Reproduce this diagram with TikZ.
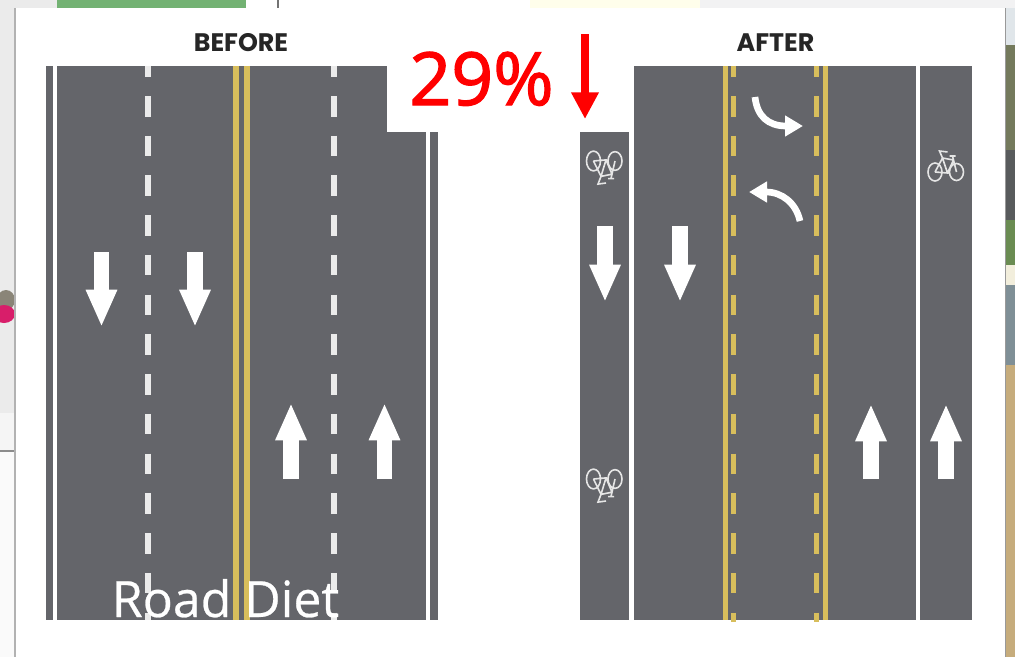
\documentclass[tikz,border=0pt]{standalone}
\usepackage{fontspec}
\setmainfont{Open Sans}
\newfontfamily\headfont{Poppins}
\newfontfamily\markfont[FakeBold=1.8]{Open Sans}
\newfontfamily\dietfont[FakeBold=0.5]{Open Sans}
\usepackage{xcolor}
\usetikzlibrary{arrows.meta}
\definecolor{asphalt}{HTML}{64656A}
\definecolor{paint}{HTML}{D8BE5C}
\definecolor{markred}{HTML}{FF0000}
\definecolor{haze}{HTML}{E0E6EA}
\definecolor{trees}{HTML}{747A5C}
\definecolor{dusk}{HTML}{585B5C}
\definecolor{grass}{HTML}{6A8C52}
\definecolor{cream}{HTML}{F2EEDC}
\definecolor{water}{HTML}{7F8F96}
\definecolor{sand}{HTML}{C6AC7C}
\definecolor{coat}{HTML}{D81E6A}
\definecolor{hair}{HTML}{8A8578}
\tikzset{
  road/.style={fill=asphalt},
  yline/.style={draw=paint, line width=4.2pt},
  ydash/.style={yline, dash pattern=on 15.4pt off 14.4pt, dash phase=7.3pt},
  wdash/.style={draw=white!92!black, line width=3.8pt, dash pattern=on 15.4pt off 14.4pt, dash phase=7.3pt},
  lanearrow/.style={draw=white, line width=11.4pt, -{Triangle[length=28pt, width=21.6pt]}},
  turnarrow/.style={draw=white, line width=5pt, -{Triangle[length=13.5pt, width=15pt]}},
  droparrow/.style={draw=markred, line width=6.6pt, -{Triangle[length=20pt, width=19.5pt]}},
  heading/.style={font=\headfont\bfseries\fontsize{19}{19}\selectfont, text=black!85, anchor=base, inner sep=0pt},
  bigmark/.style={font=\markfont\fontsize{55}{55}\selectfont, text=markred, anchor=base, inner sep=0pt},
  caption/.style={font=\dietfont\fontsize{37.5}{37.5}\selectfont, text=white, anchor=base, inner sep=0pt},
  bikemark/.pic={
    \draw[white!90!black, line width=1.2pt]
      (-10.5,0) ellipse (7 and 9) (11,0) ellipse (7 and 8.5)
      (-10.5,0) -- (-3,-14) -- (8,-12) -- (11,0)
      (-10.5,0) -- (2,1) -- (-3,-14) (2,1) -- (8,-12)
      (-3,-14) -- (-6,-21) -- (2,-20) (8,-12) -- (7,-16) (4,-16) -- (10,-16);
  }
}
\begin{document}
\begin{tikzpicture}[x=0.75pt, y=-0.75pt]
  \useasboundingbox (0,0) rectangle (1015,657);
  % what shows round the panel
  \fill[black!8] (0,0) rectangle (57,413);
  \fill[black!4] (0,413) rectangle (15,450);
  \fill[black!2] (0,450) rectangle (15,657);
  \draw[black!45, line width=1pt] (0,451) -- (15,451);
  \fill[green!45!black!55!white] (57,0) rectangle (246,8);
  \draw[black!55, line width=0.8pt] (278,0) -- (278,8);
  \fill[yellow!8] (530,0) rectangle (700,8);
  \fill[blue!3!black!5] (700,0) rectangle (1015,8);
  \fill[haze] (1005,8) rectangle (1015,45);
  \fill[trees] (1005,45) rectangle (1015,150);
  \fill[dusk] (1005,150) rectangle (1015,220);
  \fill[grass] (1005,220) rectangle (1015,265);
  \fill[cream] (1005,265) rectangle (1015,285);
  \fill[water] (1005,285) rectangle (1015,365);
  \fill[sand] (1005,365) rectangle (1015,657);
  \fill[hair] (6,300) ellipse (9 and 10);
  \fill[coat] (4,314) ellipse (11 and 9);
  \fill[white] (15,8) rectangle (1006,657);
  \draw[black!30, line width=0.8pt] (15,8) -- (15,657);
  \draw[black!40, line width=0.8pt] (1005.5,8) -- (1005.5,657);

  % before
  \fill[road] (46,66) rectangle (53,620);
  \fill[road] (57,66) rectangle (426,620);
  \fill[road] (430,66) rectangle (438,620);
  \foreach \x in {148,334}
    \draw[wdash] (\x,66) -- (\x,620);
  \foreach \x in {236,247}
    \draw[yline] (\x,66) -- (\x,620);
  \foreach \x in {101.5,195}
    \draw[lanearrow] (\x,252) -- (\x,327);
  \foreach \x in {291,384.5}
    \draw[lanearrow] (\x,479) -- (\x,403);

  % after
  \fill[road] (580,132) rectangle (629,620);
  \fill[road] (634,66) rectangle (915.5,620);
  \fill[road] (920,66) rectangle (972,620);
  \foreach \x in {725.5,825.5}
    \draw[yline] (\x,66) -- (\x,620);
  \foreach \x in {733.5,816.5}
    \draw[ydash] (\x,66) -- (\x,622);
  \foreach \x in {605,680}
    \draw[lanearrow] (\x,226) -- (\x,302);
  \foreach \x in {871,946}
    \draw[lanearrow] (\x,479) -- (\x,404);
  \draw[turnarrow] (755,97) .. controls (757,116) and (768,126) .. (803,126);
  \draw[turnarrow] (800,221) .. controls (796,203) and (782,192) .. (749,192);
  \pic (bikeright) at (945.5,172) {bikemark};
  \pic[yscale=-1.1] (biketop) at (604,161) {bikemark};
  \pic[yscale=-1.1] (bikelow) at (604,479) {bikemark};

  % headings and notes
  \node[heading] (before) at (241,51) {BEFORE};
  \node[heading] (after) at (775.5,51) {AFTER};
  \fill[white] (387,60) rectangle (634,132);
  \node[bigmark] (pct) at (481.5,105) {29\%};
  \coordinate (droptop) at (585,34);
  \coordinate (droptip) at (585,119);
  \draw[droparrow] (droptop) -- (droptip);
  \node[caption] (diet) at (225.5,617) {Road Diet};
\end{tikzpicture}
\end{document}
